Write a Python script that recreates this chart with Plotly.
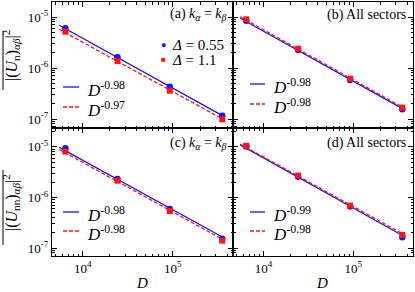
import numpy as np
import plotly.graph_objects as go

# ---------------- data ----------------
D = [6435, 24310, 92378, 352716]
fit_D = [5500, 380000]

a_blue = [6.0e-6, 1.62e-6, 4.3e-7, 1.16e-7]
a_red = [5.15e-6, 1.37e-6, 3.59e-7, 9.86e-8]
b_blue = [8.46e-6, 2.25e-6, 5.82e-7, 1.55e-7]
b_red = [9.0e-6, 2.39e-6, 6.17e-7, 1.67e-7]
c_blue = [9.4e-6, 2.32e-6, 5.9e-7, 1.53e-7]
c_red = [8.07e-6, 2.15e-6, 5.4e-7, 1.40e-7]
d_blue = [1.02e-5, 2.58e-6, 6.6e-7, 1.63e-7]
d_red = [1.05e-5, 2.71e-6, 6.9e-7, 1.81e-7]

exp_blue = [-0.98, -0.98, -0.98, -0.99]
exp_red = [-0.97, -0.98, -0.98, -0.98]

panel_titles = ["(a) <i>k</i><sub><i>α</i></sub> = <i>k</i><sub><i>β</i></sub>",
                "(b) All sectors",
                "(c) <i>k</i><sub><i>α</i></sub> = <i>k</i><sub><i>β</i></sub>",
                "(d) All sectors"]
series_names = ["<i>Δ</i> = 0.55", "<i>Δ</i> = 1.1"]
x_tickvals = [1e4, 1e5]
x_ticktext = ["10<sup>4</sup>", "10<sup>5</sup>"]
y_tickvals = [1e-7, 1e-6, 1e-5]
y_ticktext = ["10<sup>-7</sup>", "10<sup>-6</sup>", "10<sup>-5</sup>"]

# ---------------- style ----------------
W, H = 415, 292
BLUE = "#1414ff"
RED = "#ff1414"
FONT = "Liberation Serif"

def px(x):
    return x / W

def py(y):
    return 1 - y / H

xdom = [[px(52), px(233)], [px(233), px(413)]]
ydom = [[py(128), py(2)], [py(256), py(128)]]
yrng = [[-7.176, -4.706], [-7.157, -4.627]]

fig = go.Figure()

panels = [(a_blue, a_red), (b_blue, b_red), (c_blue, c_red), (d_blue, d_red)]
logD = np.log10(D)
for i, (blue, red) in enumerate(panels):
    suf = "" if i == 0 else str(i + 1)
    xa, ya = "x" + suf, "y" + suf
    for vals, ex, col, dash in [(blue, exp_blue[i], BLUE, "solid"),
                                (red, exp_red[i], RED, "4px,2px")]:
        logA = np.mean(np.log10(vals) - ex * logD)
        fx = np.array(fit_D, dtype=float)
        fy = 10 ** (logA + ex * np.log10(fx))
        fig.add_trace(go.Scatter(x=fx, y=fy, mode="lines", xaxis=xa, yaxis=ya,
                                 line=dict(color=col, width=1.3, dash=dash),
                                 showlegend=False, hoverinfo="skip"))
    for vals, col, sym, sz in [(blue, BLUE, "circle", 6.5), (red, RED, "square", 6)]:
        fig.add_trace(go.Scatter(x=D, y=vals, mode="markers", xaxis=xa, yaxis=ya,
                                 marker=dict(color=col, symbol=sym, size=sz, line=dict(width=0)),
                                 showlegend=False))

minor_x = [k * 10.0 ** e for e in range(3, 6) for k in range(2, 10)]
minor_y = [k * 10.0 ** e for e in range(-8, -4) for k in range(2, 10)]

layout = dict(width=W, height=H, margin=dict(l=0, r=0, t=0, b=0),
              paper_bgcolor="white", plot_bgcolor="white", showlegend=False,
              font=dict(family=FONT, size=13, color="black"))
for i in range(4):
    row, col = divmod(i, 2)
    suf = "" if i == 0 else str(i + 1)
    layout["xaxis" + suf] = dict(
        type="log", range=[3.66, 5.667], domain=xdom[col], anchor="y" + suf,
        showline=True, linecolor="black", linewidth=1, mirror="allticks",
        ticks="inside", ticklen=5, tickcolor="black", tickwidth=1,
        tickvals=x_tickvals, ticktext=x_ticktext, showticklabels=(row == 1),
        showgrid=False, zeroline=False,
        tickfont=dict(family=FONT, size=13, color="black"),
        minor=dict(tickvals=minor_x, ticks="inside", ticklen=2.5, tickcolor="black",
                   tickwidth=1, showgrid=False))
    layout["yaxis" + suf] = dict(
        type="log", range=yrng[row], domain=ydom[row], anchor="x" + suf,
        showline=True, linecolor="black", linewidth=1, mirror="allticks",
        ticks="inside", ticklen=5, tickcolor="black", tickwidth=1,
        tickvals=y_tickvals, ticktext=y_ticktext, showticklabels=(col == 0),
        showgrid=False, zeroline=False,
        tickfont=dict(family=FONT, size=13, color="black"),
        minor=dict(tickvals=minor_y, ticks="inside", ticklen=2.5, tickcolor="black",
                   tickwidth=1, showgrid=False))

ann = []
shapes = []

def txt(x, y, s, size, xanchor="left", yanchor="middle", color="black", angle=0):
    ann.append(dict(x=px(x), y=py(y), xref="paper", yref="paper", text=s, showarrow=False,
                    xanchor=xanchor, yanchor=yanchor, textangle=angle,
                    font=dict(family=FONT, size=size, color=color)))

def seg(x0, x1, y, color, dash):
    shapes.append(dict(type="line", xref="paper", yref="paper", x0=px(x0), x1=px(x1),
                       y0=py(y), y1=py(y), line=dict(color=color, width=1.3, dash=dash)))

# panel titles
txt(229, 15, panel_titles[0], 14, xanchor="right")
txt(408, 15, panel_titles[1], 14, xanchor="right")
txt(229, 143, panel_titles[2], 14, xanchor="right")
txt(408, 143, panel_titles[3], 14, xanchor="right")

# marker legend in (a)
txt(163, 45, "●", 9, xanchor="center", color=BLUE)
txt(163, 60, "■", 8, xanchor="center", color=RED)
txt(170, 45, series_names[0], 15)
txt(170, 60, series_names[1], 15)

# fit legends
leg = [(63, 79, 87, 107), (250, 265, 84, 104), (63, 79, 212, 231), (250, 265, 212, 231)]
for i, (x0, x1, yb, yr) in enumerate(leg):
    seg(x0, x1, yb, BLUE, "solid")
    seg(x0, x1, yr, RED, "4px,2px")
    txt(x1 + 6, yb + 2, "<i>D</i><sup>%.2f</sup>" % exp_blue[i], 17)
    txt(x1 + 6, yr + 2, "<i>D</i><sup>%.2f</sup>" % exp_red[i], 17)

# axis titles
txt(142, 283, "<i>D</i>", 15, xanchor="center")
txt(322, 283, "<i>D</i>", 15, xanchor="center")
txt(11, 56, "|(<i>U</i><sub>n</sub>)<sub><i>αβ</i></sub>|<sup>2</sup>", 16,
    xanchor="center", angle=-90)
txt(11, 203, "|(<i>U</i><sub>nn</sub>)<sub><i>αβ</i></sub>|<sup>2</sup>", 16,
    xanchor="center", angle=-90)
for (y0, y1) in [(31, 90), (170, 245)]:
    shapes.append(dict(type="line", xref="paper", yref="paper", x0=px(3), x1=px(3),
                       y0=py(y0), y1=py(y1), line=dict(color="black", width=1)))

layout["annotations"] = ann
layout["shapes"] = shapes
fig.update_layout(**layout)
fig.write_html("out.html", config={"displayModeBar": False},
               post_script="document.body.style.margin='0';document.body.style.padding='0';")
